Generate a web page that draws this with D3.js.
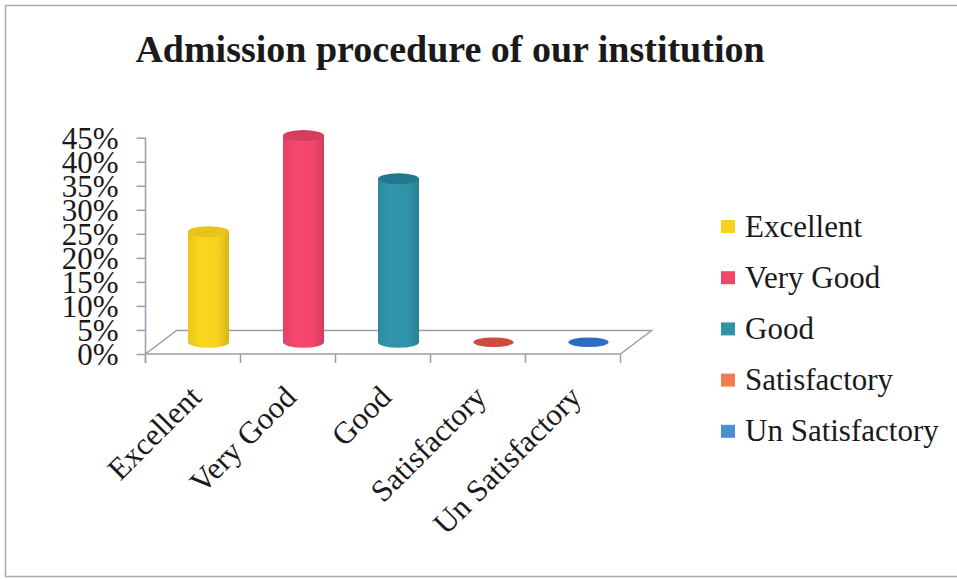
<!DOCTYPE html>
<html>
<head>
<meta charset="utf-8">
<script src="https://cdn.jsdelivr.net/npm/d3@7"></script>
<style>
  html, body { margin: 0; padding: 0; background: #ffffff; }
  svg { display: block; }
  text { font-family: "Liberation Serif", "Times New Roman", serif; fill: #1a1a1a; }
</style>
</head>
<body>
<svg id="chart" width="957" height="580"></svg>
<script>
// ---- data ----
const categories = ["Excellent", "Very Good", "Good", "Satisfactory", "Un Satisfactory"];
const values = [23, 43, 34, 0, 0];
const yTicks = [0, 5, 10, 15, 20, 25, 30, 35, 40, 45];
const seriesColors = ["#f6d21c", "#f2466c", "#2f93a8", "#f47b52", "#4a8ed8"];
const flatColors = ["#e8c418", "#d83e5c", "#22788c", "#d04a3e", "#2e6cc4"];
const title = "Admission procedure of our institution";

// ---- layout ----
const svg = d3.select("#chart");
const W = 957, H = 580;
const depthDx = 31, depthDy = 23.5;

svg.append("rect").attr("x", 5.5).attr("y", 5.5).attr("width", W + 10).attr("height", 571)
  .attr("fill", "#ffffff").attr("stroke", "#a8a8b4").attr("stroke-width", 1.5);

svg.append("text").attr("x", 450).attr("y", 62).attr("text-anchor", "middle")
  .style("font-size", "38px").style("font-weight", "bold").text(title);

const x = d3.scaleBand().domain(categories).range([145.5, 620.5]).padding(0);
const y = d3.scaleLinear().domain([0, 45]).range([354, 137.7]);

const grid = "#9c9caa";

// floor parallelogram
const x0 = x.range()[0], x1 = x.range()[1], yb = y(0);
svg.append("path")
  .attr("d", `M${x0},${yb} L${x0 + depthDx},${yb - depthDy} L${x1 + depthDx},${yb - depthDy} L${x1},${yb}`)
  .attr("fill", "none").attr("stroke", grid).attr("stroke-width", 1.5);

// y axis
const yAxis = d3.axisLeft(y).tickValues(yTicks).tickSize(9).tickFormat(d => d + "%");
const gy = svg.append("g").attr("transform", `translate(${x0},0)`).call(yAxis);
gy.select(".domain").attr("stroke", grid).attr("stroke-width", 1.5)
  .attr("d", `M0,${y(45)} V${yb + 9}`);
gy.selectAll(".tick line").attr("stroke", grid).attr("stroke-width", 1.5);
gy.selectAll(".tick text").attr("x", -27).attr("dy", "0.35em")
  .style("font-size", "31px").style("font-family", "'Liberation Serif', serif").attr("fill", "#1a1a1a");

// x axis (ticks at band boundaries)
const xAxis = d3.axisBottom(x).tickSize(0).tickFormat("");
const gx = svg.append("g").attr("transform", `translate(0,${yb})`).call(xAxis);
gx.select(".domain").attr("stroke", grid).attr("stroke-width", 1.5).attr("d", `M${x0},0 H${x1}`);
gx.selectAll(".tick").remove();
const bounds = categories.map(c => x(c)).concat([x1]);
gx.selectAll("line.bt").data(bounds).enter().append("line")
  .attr("x1", d => d).attr("x2", d => d).attr("y1", 0).attr("y2", 9)
  .attr("stroke", grid).attr("stroke-width", 1.5);

// category labels rotated
svg.append("g").selectAll("text").data(categories).enter().append("text")
  .attr("transform", d => `translate(${x(d) + x.bandwidth() / 2 + 10},${399}) rotate(-45)`)
  .attr("text-anchor", "end").style("font-size", "31px").text(d => d);

// cylinders
const defs = svg.append("defs");
categories.forEach((c, i) => {
  const g = defs.append("linearGradient").attr("id", "g" + i)
    .attr("x1", "0%").attr("x2", "100%").attr("y1", "0%").attr("y2", "0%");
  const col = d3.color(seriesColors[i]);
  g.append("stop").attr("offset", "0%").attr("stop-color", col.darker(0.15));
  g.append("stop").attr("offset", "30%").attr("stop-color", col.brighter(0.05));
  g.append("stop").attr("offset", "75%").attr("stop-color", col);
  g.append("stop").attr("offset", "100%").attr("stop-color", col.darker(0.4));
});

const rx = 20.5, ry = 5.5;
const bars = svg.append("g");
categories.forEach((c, i) => {
  const cx = x(c) + x.bandwidth() / 2 + depthDx / 2;
  const base = y(0) - depthDy / 2;
  const top = y(values[i]) - depthDy / 2;
  if (values[i] > 0) {
    bars.append("path")
      .attr("d", `M${cx - rx},${top} L${cx - rx},${base} A${rx},${ry} 0 0 0 ${cx + rx},${base} L${cx + rx},${top} Z`)
      .attr("fill", `url(#g${i})`);
    bars.append("ellipse").attr("cx", cx).attr("cy", top).attr("rx", rx).attr("ry", ry)
      .attr("fill", flatColors[i]);
  } else {
    bars.append("ellipse").attr("cx", cx).attr("cy", base).attr("rx", 20).attr("ry", 4.8)
      .attr("fill", flatColors[i]);
  }
});

// legend
const legend = svg.append("g");
categories.forEach((c, i) => {
  const cy = 226.5 + i * 51.2;
  legend.append("rect").attr("x", 721).attr("y", cy - 6.5).attr("width", 14).attr("height", 13)
    .attr("fill", seriesColors[i]);
  legend.append("text").attr("x", 745).attr("y", cy + 10).style("font-size", "31px").text(c);
});
</script>
</body>
</html>
